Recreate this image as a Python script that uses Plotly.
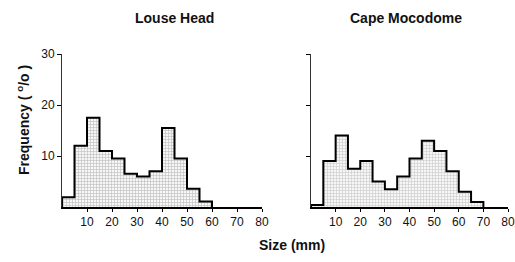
import plotly.graph_objects as go

# Size classes (lower edge of each 5 mm bin)
bin_width = 5
louse_bins = [0, 5, 10, 15, 20, 25, 30, 35, 40, 45, 50, 55]
louse_freq = [1.9, 12.0, 17.5, 11.0, 9.5, 6.5, 6.0, 7.0, 15.5, 9.5, 3.6, 1.1]

cape_bins = [0, 5, 10, 15, 20, 25, 30, 35, 40, 45, 50, 55, 60, 65]
cape_freq = [0.4, 9.0, 14.0, 7.5, 9.0, 5.0, 3.5, 6.0, 9.5, 13.0, 11.0, 7.0, 3.0, 1.0]

x_ticks = [10, 20, 30, 40, 50, 60, 70, 80]
y_ticks = [10, 20, 30]
titles = ["Louse Head", "Cape Mocodome"]

FONT = "Liberation Sans, Arial, sans-serif"

fig = go.Figure()

panels = [(louse_bins, louse_freq, "x", "y", "#808080"),
          (cape_bins, cape_freq, "x2", "y2", "#9a9a9a")]
for bins, freq, xa, ya, dot in panels:
    fig.add_trace(go.Bar(
        x=bins, y=freq, width=bin_width, offset=0,
        marker=dict(color="#f4f4f4",
                    line=dict(width=0),
                    pattern=dict(shape="+", fgcolor=dot, bgcolor="#f6f6f6",
                                 size=3, solidity=0.35)),
        xaxis=xa, yaxis=ya, showlegend=False, hoverinfo="skip"))
    xs = [bins[0]] + bins + [bins[-1] + bin_width]
    ys = [0] + freq + [0]
    fig.add_trace(go.Scatter(
        x=xs, y=ys, mode="lines", line=dict(shape="hv", color="black", width=2),
        xaxis=xa, yaxis=ya, showlegend=False, hoverinfo="skip"))

ydom = [1 - 207 / 262, 1 - 54 / 262]
xaxis_common = dict(range=[0, 80], tickvals=x_ticks, ticktext=[str(t) for t in x_ticks],
                    showgrid=False, zeroline=False, showline=True, linecolor="black",
                    linewidth=1.5, ticks="outside", ticklen=3, tickwidth=1, tickcolor="black",
                    tickfont=dict(family=FONT, size=12, color="#111"), fixedrange=True,
                    automargin=False)
yaxis_common = dict(range=[0, 30], tickvals=y_ticks, showgrid=False, zeroline=False,
                    showline=True, linecolor="#333", linewidth=1, ticks="outside",
                    ticklen=4, tickwidth=1, tickcolor="black",
                    tickfont=dict(family=FONT, size=12, color="#111"), fixedrange=True,
                    automargin=False)

fig.update_layout(
    width=515, height=262,
    margin=dict(l=0, r=0, t=0, b=0, autoexpand=False),
    paper_bgcolor="white", plot_bgcolor="white",
    bargap=0,
    xaxis=dict(domain=[62 / 515, 262 / 515], anchor="y", **xaxis_common),
    yaxis=dict(domain=ydom, anchor="x", showticklabels=True, **yaxis_common),
    xaxis2=dict(domain=[311 / 515, 508 / 515], anchor="y2", **xaxis_common),
    yaxis2=dict(domain=ydom, anchor="x2", showticklabels=False, **yaxis_common),
)

annots = [
    dict(text=titles[0], x=174 / 515, y=1 - 18 / 262),
    dict(text=titles[1], x=406 / 515, y=1 - 18 / 262),
]
for a in annots:
    fig.add_annotation(xref="paper", yref="paper", showarrow=False,
                       xanchor="center", yanchor="middle",
                       font=dict(family=FONT, size=14, color="#111", weight="bold"), **a)

fig.add_annotation(text="Frequency ( <sup>o</sup>/o )", xref="paper", yref="paper",
                   x=23 / 515, y=1 - 120 / 262, textangle=-90, showarrow=False,
                   xanchor="center", yanchor="middle",
                   font=dict(family=FONT, size=14, color="#111", weight="bold"))
fig.add_annotation(text="Size (mm)", xref="paper", yref="paper",
                   x=292 / 515, y=1 - 245 / 262, showarrow=False,
                   xanchor="center", yanchor="middle",
                   font=dict(family=FONT, size=14, color="#111", weight="bold"))

fig.write_html("out.html",
               config={"displayModeBar": False, "staticPlot": True},
               post_script="document.body.style.margin='0';document.body.style.overflow='hidden';")
